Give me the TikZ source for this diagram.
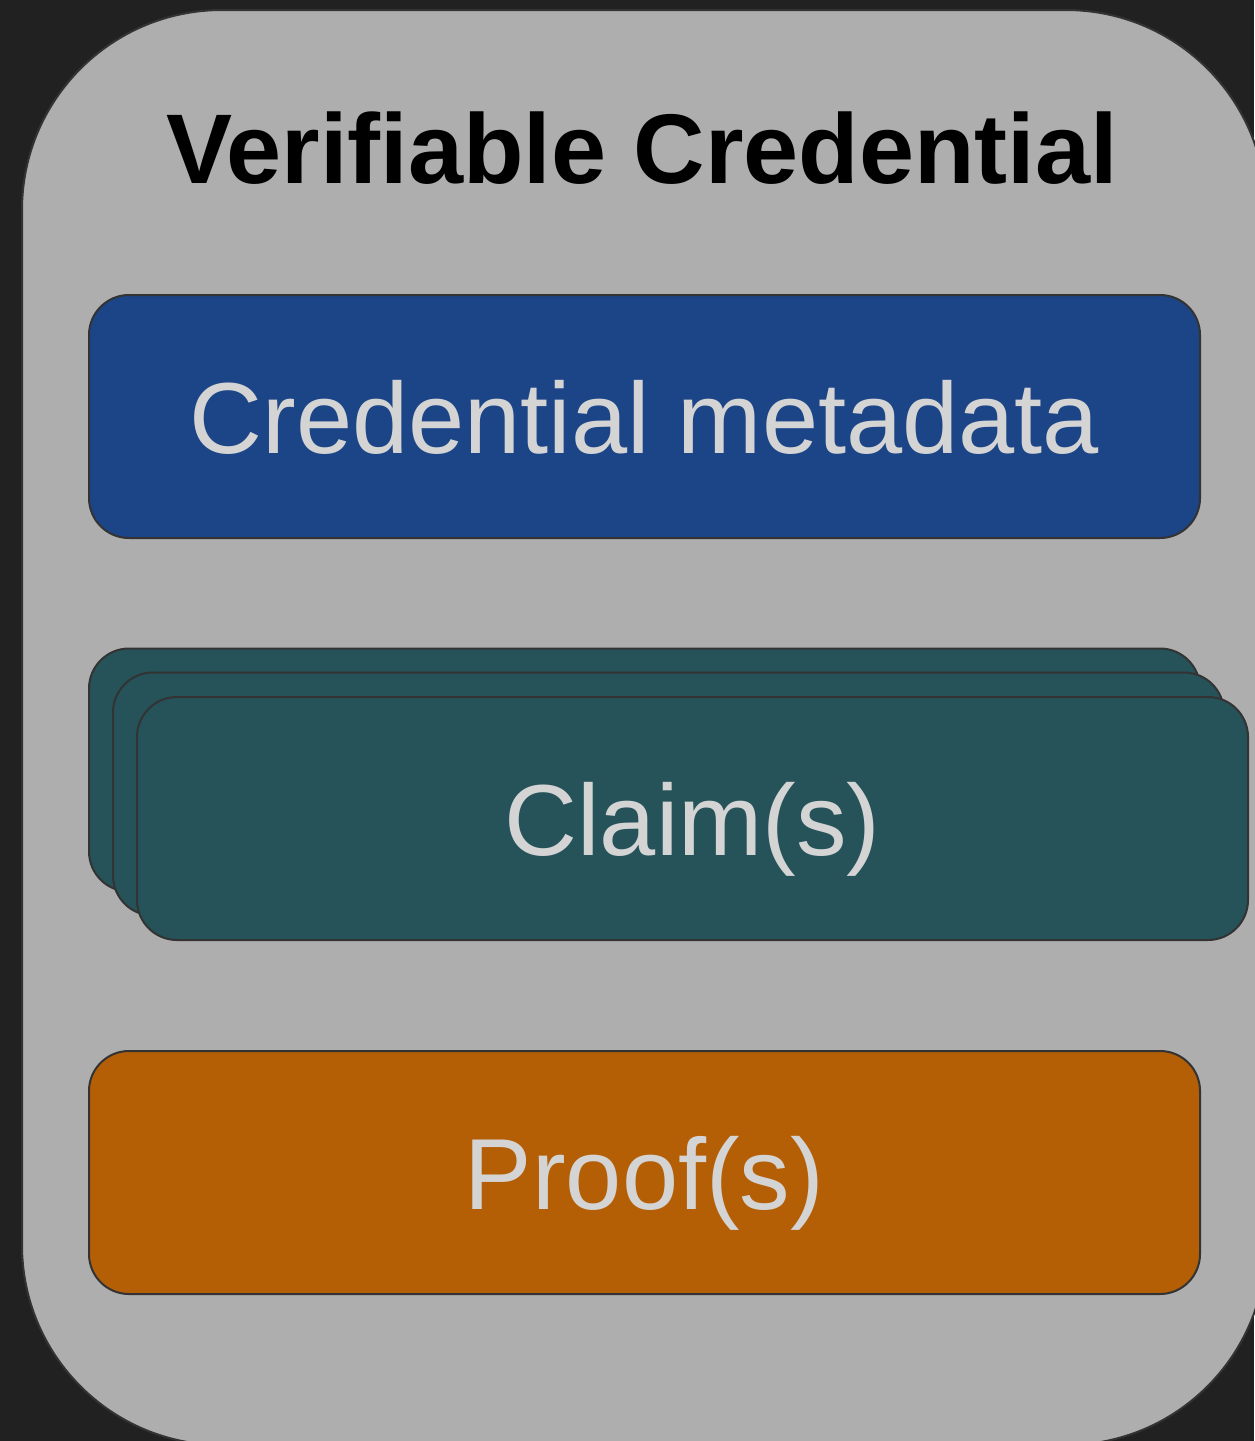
\documentclass[tikz,border=0pt]{standalone}
\usepackage{fontspec}
\setmainfont{Liberation Sans}
\definecolor{bgdark}{HTML}{212121}
\definecolor{outergray}{HTML}{AEAEAE}
\definecolor{edgegray}{HTML}{333333}
\definecolor{metablue}{HTML}{1C4587}
\definecolor{claimteal}{HTML}{255359}
\definecolor{prooforange}{HTML}{B45F06}
\definecolor{lighttext}{HTML}{D4D4D4}
\begin{document}
\begin{tikzpicture}[x=1pt,y=-1pt,
  innerbox/.style={draw=edgegray, line width=2pt, rounded corners=40pt,
    minimum width=1111pt, minimum height=243pt, inner sep=0pt,
    text height=73pt, text depth=0pt,
    text=lighttext, font=\fontsize{101}{110}\selectfont},
  ]
\useasboundingbox (0,0) rectangle (1254,1441);
\fill[bgdark] (0,0) rectangle (1254,1441);
\node[draw=edgegray, line width=2pt, fill=outergray, rounded corners=200pt,
  minimum width=1244pt, minimum height=1435pt, inner sep=0pt] (outer) at (644,727.5) {};
\node[anchor=base, font=\bfseries\fontsize{99}{110}\selectfont, text=black] (title) at (642,183) {Verifiable Credential};
\node[innerbox, fill=metablue] (meta) at (644.5,416.5) {Credential metadata};
\node[innerbox, fill=claimteal] (claimA) at (644.5,770) {};
\node[innerbox, fill=claimteal] (claimB) at (668.5,794) {};
\node[innerbox, fill=claimteal] (claimC) at (692.5,818.5) {Claim(s)};
\node[innerbox, fill=prooforange] (proof) at (644.5,1172.5) {Proof(s)};
\end{tikzpicture}
\end{document}
